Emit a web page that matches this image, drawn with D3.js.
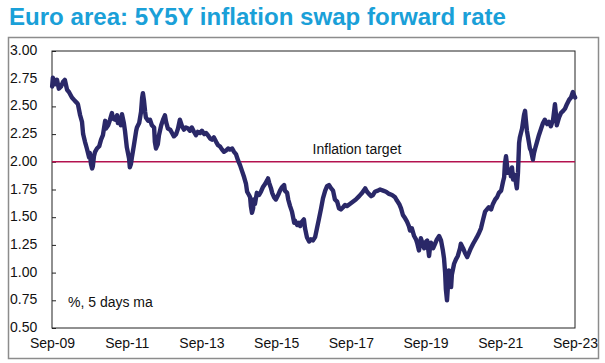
<!DOCTYPE html>
<html>
<head>
<meta charset="utf-8">
<script src="https://cdn.jsdelivr.net/npm/d3@7"></script>
<style>
  html, body { margin: 0; padding: 0; background: #fff; }
  svg { display: block; font-family: "Liberation Sans", Arial, sans-serif; }
</style>
</head>
<body>
<svg id="chart" width="605" height="363"></svg>
<script>
// ---- data ----
const titleText = "Euro area: 5Y5Y inflation swap forward rate";
const unitNote = "%, 5 days ma";
const targetLabel = "Inflation target";
const targetValue = 2.0;

const yTicks = [0.50, 0.75, 1.00, 1.25, 1.50, 1.75, 2.00, 2.25, 2.50, 2.75, 3.00];
const xTickYears = [2009, 2011, 2013, 2015, 2017, 2019, 2021, 2023];
const xTickLabels = ["Sep-09", "Sep-11", "Sep-13", "Sep-15", "Sep-17", "Sep-19", "Sep-21", "Sep-23"];

// time in decimal years
const dates = [
 2009.67,2009.69,2009.75,2009.80,2009.85,2009.91,2009.96,2010.01,2010.07,2010.12,
 2010.20,2010.28,2010.34,2010.36,2010.42,2010.47,2010.50,2010.55,2010.60,2010.66,
 2010.68,2010.71,2010.74,2010.76,2010.79,2010.82,2010.87,2010.93,2010.98,2011.03,
 2011.09,2011.11,2011.17,2011.22,2011.27,2011.30,2011.35,2011.41,2011.43,2011.49,
 2011.51,2011.54,2011.59,2011.62,2011.67,2011.73,2011.75,2011.78,2011.81,2011.86,
 2011.92,2011.94,2012.00,2012.05,2012.08,2012.10,2012.13,2012.16,2012.18,2012.24,
 2012.29,2012.34,2012.40,2012.42,2012.45,2012.50,2012.53,2012.59,2012.64,2012.69,
 2012.72,2012.77,2012.83,2012.88,2012.93,2012.99,2013.04,2013.09,2013.15,2013.20,
 2013.25,2013.31,2013.36,2013.41,2013.47,2013.52,2013.57,2013.63,2013.68,2013.74,
 2013.79,2013.84,2013.90,2013.95,2014.00,2014.06,2014.11,2014.16,2014.22,2014.27,
 2014.32,2014.38,2014.43,2014.49,2014.54,2014.59,2014.65,2014.70,2014.75,2014.81,
 2014.86,2014.89,2014.94,2014.97,2014.99,2015.02,2015.05,2015.07,2015.10,2015.13,
 2015.15,2015.21,2015.26,2015.31,2015.37,2015.42,2015.45,2015.48,2015.53,2015.56,
 2015.61,2015.66,2015.72,2015.77,2015.82,2015.88,2015.90,2015.96,2015.99,2016.04,
 2016.09,2016.15,2016.17,2016.23,2016.28,2016.31,2016.36,2016.41,2016.44,2016.49,
 2016.55,2016.60,2016.65,2016.71,2016.76,2016.81,2016.87,2016.92,2016.98,2017.03,
 2017.08,2017.14,2017.19,2017.24,2017.30,2017.35,2017.40,2017.46,2017.51,2017.56,
 2017.64,2017.72,2017.80,2017.89,2017.97,2018.05,2018.10,2018.15,2018.21,2018.26,
 2018.31,2018.39,2018.45,2018.53,2018.61,2018.69,2018.77,2018.85,2018.90,2018.96,
 2019.01,2019.06,2019.12,2019.17,2019.22,2019.25,2019.30,2019.36,2019.41,2019.44,
 2019.49,2019.52,2019.54,2019.60,2019.63,2019.68,2019.71,2019.76,2019.79,2019.81,
 2019.87,2019.92,2019.97,2020.03,2020.08,2020.13,2020.16,2020.19,2020.21,2020.24,
 2020.27,2020.29,2020.32,2020.35,2020.37,2020.43,2020.48,2020.53,2020.59,2020.61,
 2020.67,2020.72,2020.78,2020.83,2020.88,2020.94,2020.99,2021.04,2021.10,2021.15,
 2021.20,2021.26,2021.31,2021.36,2021.42,2021.47,2021.53,2021.58,2021.63,2021.69,
 2021.74,2021.77,2021.79,2021.82,2021.85,2021.87,2021.93,2021.95,2021.98,2022.01,
 2022.06,2022.09,2022.11,2022.14,2022.17,2022.19,2022.25,2022.30,2022.33,2022.35,
 2022.38,2022.41,2022.46,2022.49,2022.54,2022.57,2022.60,2022.65,2022.70,2022.76,
 2022.81,2022.86,2022.92,2022.97,2023.02,2023.08,2023.13,2023.16,2023.18,2023.24,
 2023.29,2023.35,2023.40,2023.45,2023.51,2023.56,2023.61,2023.64,2023.67
];

const swapRate = [
 2.68,2.76,2.70,2.74,2.66,2.68,2.72,2.74,2.65,2.63,
 2.58,2.55,2.53,2.52,2.42,2.36,2.25,2.18,2.12,2.04,
 2.08,1.98,1.94,1.96,2.05,2.09,2.12,2.14,2.20,2.24,
 2.37,2.30,2.33,2.38,2.44,2.39,2.38,2.42,2.35,2.40,
 2.33,2.43,2.35,2.28,2.13,2.03,1.95,1.98,2.05,2.15,
 2.28,2.31,2.35,2.45,2.58,2.62,2.55,2.45,2.40,2.37,
 2.38,2.33,2.31,2.18,2.12,2.16,2.24,2.33,2.38,2.42,
 2.36,2.30,2.29,2.26,2.23,2.25,2.30,2.38,2.32,2.29,
 2.31,2.30,2.28,2.31,2.27,2.24,2.27,2.26,2.28,2.25,
 2.26,2.24,2.21,2.20,2.22,2.18,2.15,2.14,2.11,2.09,
 2.10,2.12,2.11,2.12,2.09,2.07,2.01,1.97,1.92,1.86,
 1.80,1.73,1.70,1.68,1.60,1.54,1.58,1.66,1.62,1.68,
 1.72,1.70,1.73,1.77,1.80,1.83,1.85,1.81,1.76,1.72,
 1.68,1.66,1.70,1.74,1.77,1.79,1.74,1.72,1.66,1.60,
 1.55,1.45,1.47,1.43,1.45,1.42,1.46,1.48,1.40,1.32,
 1.28,1.30,1.29,1.32,1.40,1.48,1.58,1.67,1.74,1.78,
 1.79,1.76,1.74,1.66,1.64,1.58,1.57,1.59,1.61,1.60,
 1.62,1.64,1.66,1.69,1.72,1.76,1.73,1.71,1.69,1.70,
 1.73,1.74,1.75,1.74,1.73,1.71,1.70,1.68,1.65,1.62,
 1.58,1.52,1.49,1.46,1.42,1.38,1.40,1.33,1.30,1.27,
 1.20,1.26,1.31,1.25,1.22,1.28,1.29,1.15,1.24,1.27,
 1.22,1.26,1.30,1.33,1.29,1.20,1.13,1.00,0.85,0.75,
 0.90,1.02,0.95,0.87,0.98,1.08,1.12,1.15,1.22,1.26,
 1.22,1.18,1.14,1.18,1.22,1.26,1.29,1.32,1.36,1.40,
 1.47,1.55,1.57,1.59,1.57,1.62,1.66,1.68,1.72,1.74,
 1.82,1.86,1.98,2.05,1.96,1.90,1.93,1.87,1.95,1.84,
 1.88,1.80,1.76,1.90,2.17,2.22,2.30,2.42,2.46,2.38,
 2.28,2.22,2.12,2.10,2.02,2.08,2.12,2.18,2.24,2.30,
 2.35,2.38,2.34,2.36,2.32,2.38,2.52,2.42,2.33,2.40,
 2.44,2.46,2.48,2.52,2.56,2.58,2.63,2.60,2.58
];

// ---- layout ----
const svg = d3.select("#chart");
const plot = { left: 52, right: 575, top: 51, bottom: 328 };
const sepOf = y => y + 8 / 12;

const x = d3.scaleLinear().domain([sepOf(2009), sepOf(2023)]).range([plot.left, plot.right]);
const y = d3.scaleLinear().domain([0.5, 3.0]).range([plot.bottom, plot.top]);

// outer frame
svg.append("rect")
  .attr("x", 8.5).attr("y", 37.5).attr("width", 590).attr("height", 321)
  .attr("fill", "none").attr("stroke", "#8c8c8c").attr("stroke-width", 1.5);

// title
svg.append("text")
  .attr("x", 9).attr("y", 25)
  .attr("font-size", 24).attr("font-weight", "bold")
  .attr("fill", "#1aa0d8")
  .attr("textLength", 497).attr("lengthAdjust", "spacingAndGlyphs")
  .text(titleText);

// plot border
svg.append("rect")
  .attr("x", plot.left).attr("y", plot.top)
  .attr("width", plot.right - plot.left).attr("height", plot.bottom - plot.top)
  .attr("fill", "none").attr("stroke", "#222").attr("stroke-width", 1);

// y axis (inner ticks, labels at left)
const yAxis = d3.axisRight(y).tickValues(yTicks).tickSize(4).tickFormat("");
svg.append("g").attr("transform", `translate(${plot.left},0)`).call(yAxis)
  .call(g => g.select(".domain").remove())
  .call(g => g.selectAll("line").attr("stroke", "#222"));

svg.append("g").selectAll("text").data(yTicks).join("text")
  .attr("x", 10).attr("y", d => y(d) - 1)
  .attr("dy", "0.36em")
  .attr("font-size", 14).attr("fill", "#111")
  .text(d3.format(".2f"));

// x axis labels
const xAxis = d3.axisBottom(x).tickValues(xTickYears.map(sepOf))
  .tickSize(0).tickPadding(10)
  .tickFormat((d, i) => xTickLabels[i]);
svg.append("g").attr("transform", `translate(0,${plot.bottom})`).call(xAxis)
  .call(g => g.select(".domain").remove())
  .call(g => g.selectAll("text").attr("font-size", 14).attr("fill", "#111")
    .attr("font-family", "Liberation Sans, Arial, sans-serif"));

// inflation target line
svg.append("line")
  .attr("x1", plot.left).attr("x2", plot.right)
  .attr("y1", y(targetValue)).attr("y2", y(targetValue))
  .attr("stroke", "#b3124f").attr("stroke-width", 1.6);

svg.append("text")
  .attr("x", x(2017.83)).attr("y", y(targetValue) - 8)
  .attr("text-anchor", "middle")
  .attr("font-size", 14).attr("fill", "#111")
  .text(targetLabel);

// series line
const series = dates.map((d, i) => ({ t: d, v: swapRate[i] }));
const line = d3.line().x(d => x(d.t)).y(d => y(d.v));
svg.append("path")
  .datum(series)
  .attr("d", line)
  .attr("fill", "none")
  .attr("stroke", "#2a2868")
  .attr("stroke-width", 4.4)
  .attr("stroke-linejoin", "round")
  .attr("stroke-linecap", "round");

// unit note
svg.append("text")
  .attr("x", 68).attr("y", 307)
  .attr("font-size", 14).attr("fill", "#111")
  .text(unitNote);
</script>
</body>
</html>
